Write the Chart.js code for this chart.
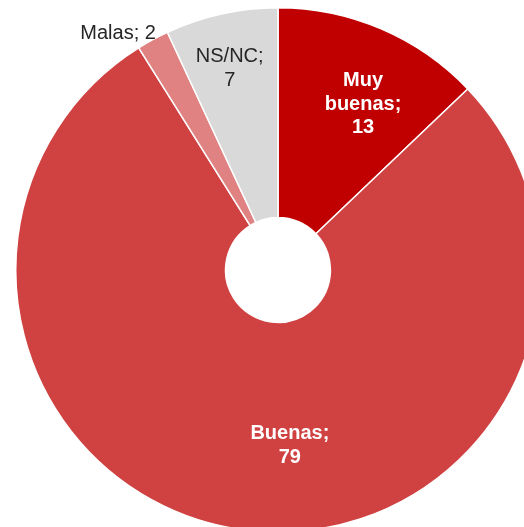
<!DOCTYPE html>
<html>
<head>
<meta charset="utf-8">
<script src="https://cdn.jsdelivr.net/npm/chart.js@4.4.1/dist/chart.umd.min.js"></script>
<style>
  html, body { margin: 0; padding: 0; background: #fff; overflow: hidden; width: 524px; height: 527px; }
  #wrap { position: absolute; left: 15px; top: 7px; width: 526px; height: 526px; }
</style>
</head>
<body>
<div id="wrap"><canvas id="myChart"></canvas></div>
<script>
// data
var categories = ["Muy buenas", "Buenas", "Malas", "NS/NC"];
var values = [13, 79, 2, 7];
var sliceColors = ["#C00000", "#D04242", "#E08282", "#D9D9D9"];

// label text lines, colours and placement (fraction of radius, angle tweak in degrees)
var labelLines = [["Muy", "buenas;", "13"], ["Buenas;", "79"], ["Malas; 2"], ["NS/NC;", "7"]];
var labelStyle = [
  { color: "#ffffff", bold: true, r: 0.71, da: 4 },
  { color: "#ffffff", bold: true, r: 0.67, da: -11 },
  { color: "#262626", bold: false, r: 1.09, da: -5.5 },
  { color: "#262626", bold: false, r: 0.79, da: -1 }
];

var sliceLabels = {
  id: "sliceLabels",
  afterDatasetsDraw: function(chart) {
    var c = chart.ctx;
    var arcs = chart.getDatasetMeta(0).data;
    c.save();
    c.textAlign = "center";
    c.textBaseline = "middle";
    arcs.forEach(function(arc, i) {
      var st = labelStyle[i];
      var lines = labelLines[i];
      var a = (arc.startAngle + arc.endAngle) / 2 + st.da * Math.PI / 180;
      var r = arc.outerRadius * st.r;
      var x = arc.x + Math.cos(a) * r;
      var y = arc.y + Math.sin(a) * r;
      var lh = 23.5;
      c.fillStyle = st.color;
      c.font = (st.bold ? "bold " : "") + "20px 'Liberation Sans', Arial, sans-serif";
      lines.forEach(function(t, k) {
        c.fillText(t, x, y + (k - (lines.length - 1) / 2) * lh);
      });
    });
    c.restore();
  }
};

var ctx = document.getElementById("myChart");
var myChart = new Chart(ctx, {
  type: "doughnut",
  data: {
    labels: categories,
    datasets: [{
      data: values,
      backgroundColor: sliceColors,
      borderColor: "#ffffff",
      borderWidth: 1.5
    }]
  },
  options: {
    responsive: true,
    maintainAspectRatio: false,
    animation: false,
    cutout: "20%",
    plugins: {
      legend: { display: false },
      tooltip: { enabled: false }
    }
  },
  plugins: [sliceLabels]
});
</script>
</body>
</html>
